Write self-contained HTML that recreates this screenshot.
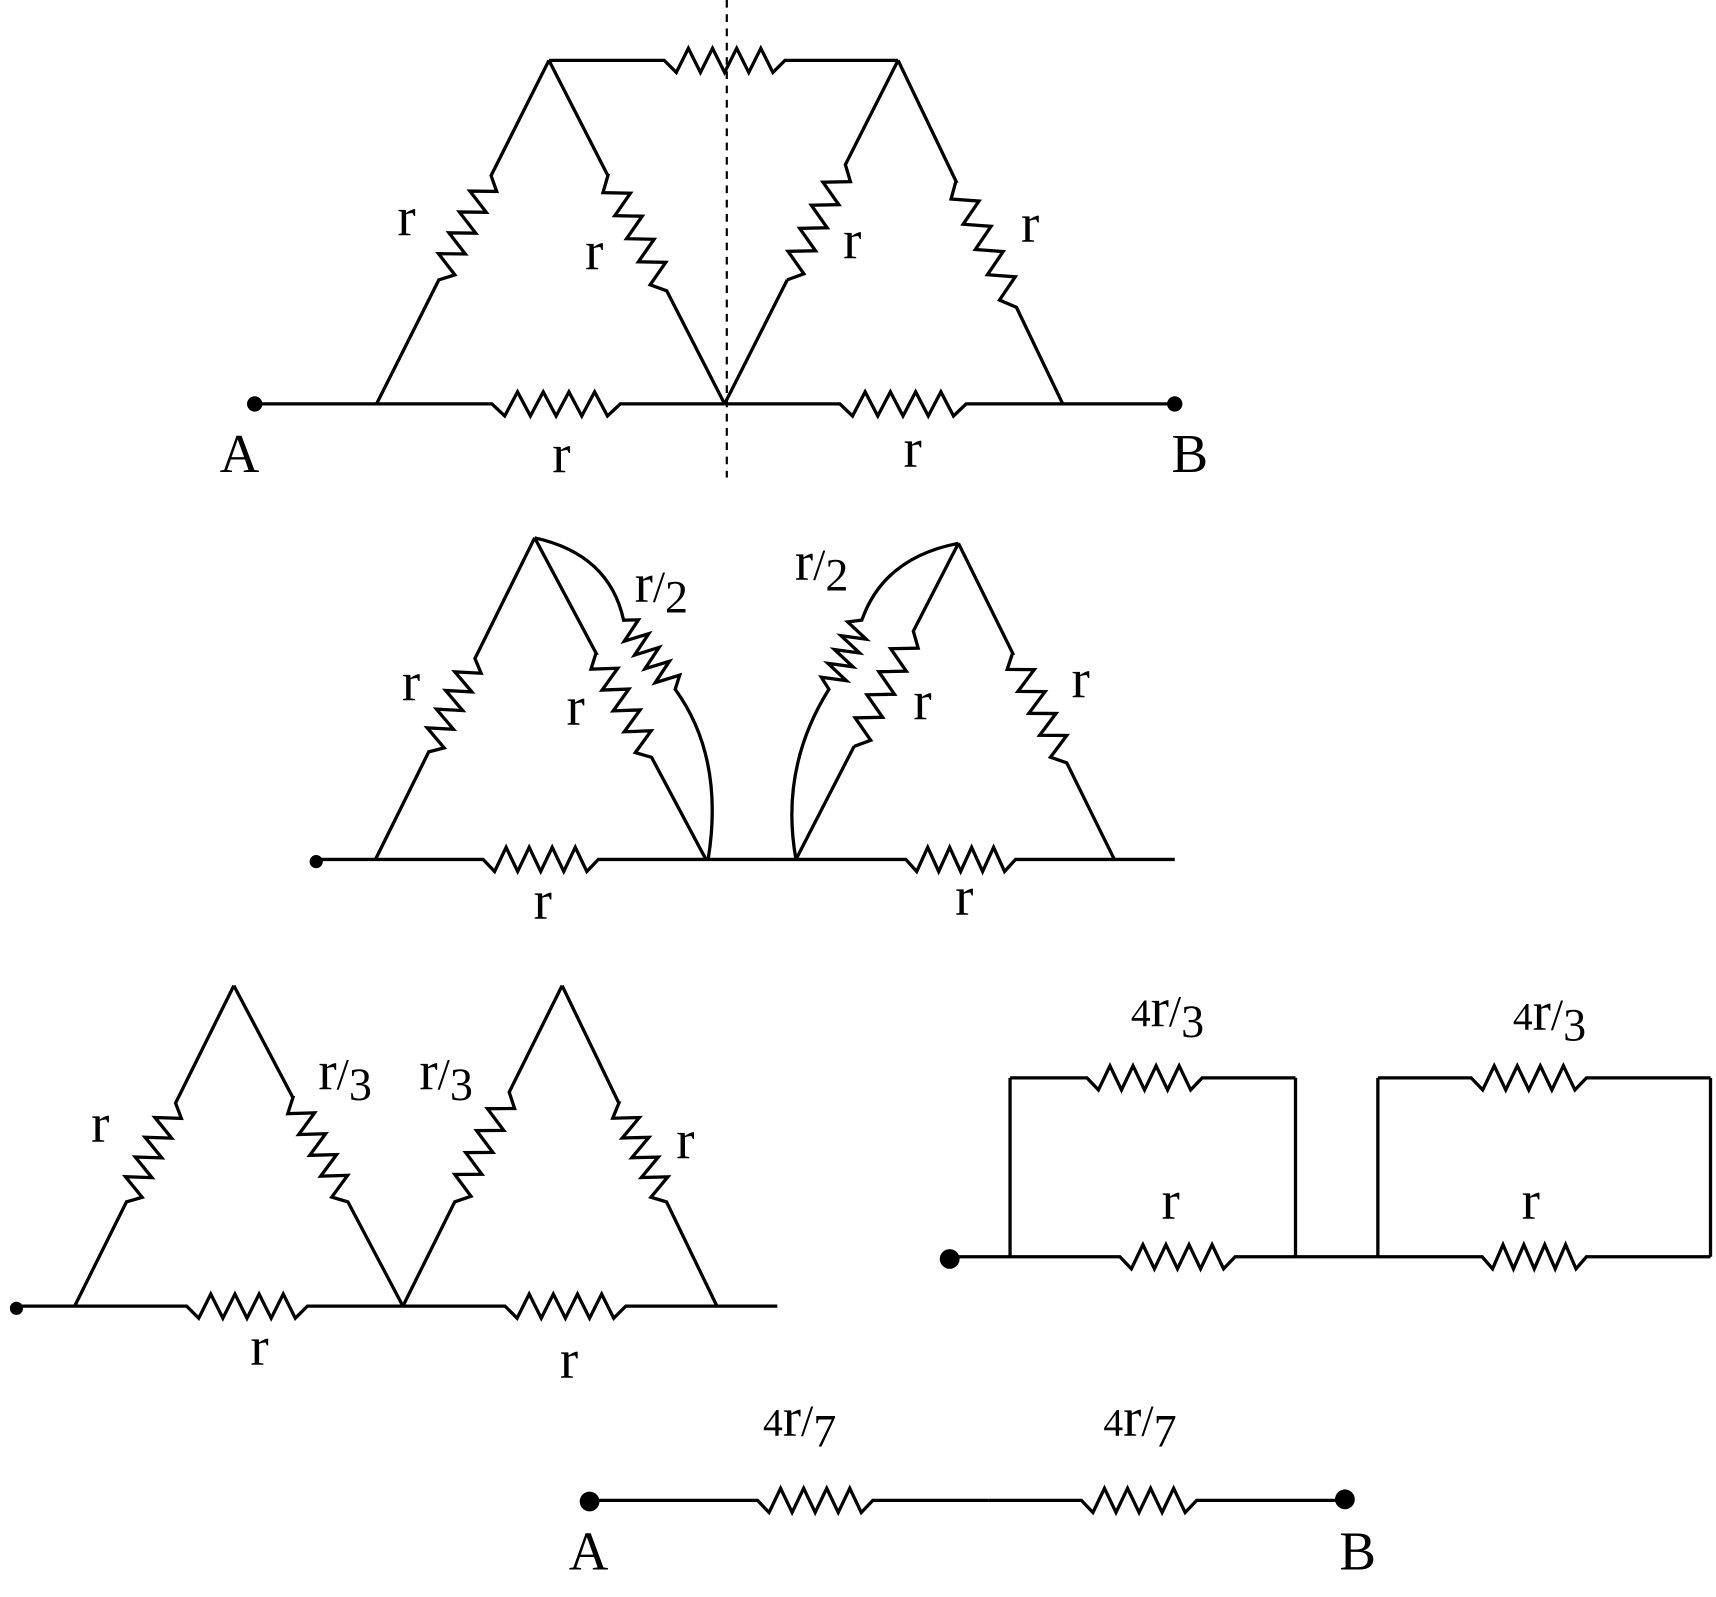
<!DOCTYPE html>
<html><head><meta charset="utf-8"><style>
html,body{margin:0;padding:0;background:#fff}
svg{display:block}
text{font-family:"Liberation Serif",serif;fill:#000}
</style></head><body>
<svg id="s" width="1716" height="1597" viewBox="0 0 1563 1455" preserveAspectRatio="none" xmlns="http://www.w3.org/2000/svg">
<g id="g" fill="none" stroke="#000" stroke-width="3" stroke-linejoin="miter"></g>
<g id="d" fill="#000"></g>
<line x1="662" y1="0" x2="662" y2="435" stroke="#000" stroke-width="2" stroke-dasharray="7,6"/>
<g font-size="50">
<text x="362" y="214">r</text><text x="533" y="245">r</text><text x="768" y="235">r</text><text x="930" y="220">r</text>
<text x="503" y="430">r</text><text x="823" y="425">r</text>
<text x="200" y="430">A</text><text x="1067" y="430">B</text>
<text x="366" y="638">r</text><text x="516" y="660">r</text><text x="832" y="655">r</text><text x="976" y="635">r</text>
<text x="486" y="837">r</text><text x="870" y="833">r</text>
<text x="83" y="1040">r</text><text x="616" y="1055">r</text><text x="228" y="1243">r</text><text x="510" y="1255">r</text>
<text x="1058" y="1110">r</text><text x="1386" y="1110">r</text>
<text x="518" y="1430">A</text><text x="1220" y="1430">B</text>
</g>
<g>
<text x="578" y="548"><tspan font-size="50">r</tspan><tspan font-size="40">/</tspan><tspan font-size="42" dy="10">2</tspan></text>
<text x="724" y="528"><tspan font-size="50">r</tspan><tspan font-size="40">/</tspan><tspan font-size="42" dy="10">2</tspan></text>
<text x="290" y="992"><tspan font-size="50">r</tspan><tspan font-size="40">/</tspan><tspan font-size="42" dy="10">3</tspan></text>
<text x="382" y="992"><tspan font-size="50">r</tspan><tspan font-size="40">/</tspan><tspan font-size="42" dy="10">3</tspan></text>
<text x="1030" y="935"><tspan font-size="36">4</tspan><tspan font-size="50">r</tspan><tspan font-size="40">/</tspan><tspan font-size="42" dy="10">3</tspan></text>
<text x="1378" y="938"><tspan font-size="36">4</tspan><tspan font-size="50">r</tspan><tspan font-size="40">/</tspan><tspan font-size="42" dy="10">3</tspan></text>
<text x="695" y="1308"><tspan font-size="36">4</tspan><tspan font-size="50">r</tspan><tspan font-size="40">/</tspan><tspan font-size="42" dy="10">7</tspan></text>
<text x="1005" y="1308"><tspan font-size="36">4</tspan><tspan font-size="50">r</tspan><tspan font-size="40">/</tspan><tspan font-size="42" dy="10">7</tspan></text>
</g>
</svg>
<script>
var g=document.getElementById('g'),d=document.getElementById('d'),NS='http://www.w3.org/2000/svg';
function P(s){var e=document.createElementNS(NS,'path');e.setAttribute('d',s);g.appendChild(e);}
function zz(x0,y0,x1,y1,flip){var dx=x1-x0,dy=y1-y0,L=Math.hypot(dx,dy),nx=-dy/L,ny=dx/L,A=11*(flip?-1:1),n=10,s='';
 for(var i=0;i<=n;i++){var t=i/n;var a=(i==0||i==n)?0:(i%2?A:-A);s+=' L'+(x0+dx*t+nx*a).toFixed(1)+','+(y0+dy*t+ny*a).toFixed(1);}return s;}
function W(x0,y0,x1,y1,a,b){
 var ax=x0+(x1-x0)*a,ay=y0+(y1-y0)*a,bx=x0+(x1-x0)*b,by=y0+(y1-y0)*b;
 P('M'+x0+','+y0+' L'+ax+','+ay+zz(ax,ay,bx,by)+' L'+x1+','+y1);}
function L(s){P(s);}
function H(x0,x1,y,r0,r1){P('M'+x0+','+y+' L'+r0+','+y+zz(r0,y,r1,y)+' L'+x1+','+y);}
function dot(x,y,r){var c=document.createElementNS(NS,'circle');c.setAttribute('cx',x);c.setAttribute('cy',y);c.setAttribute('r',r||7);d.appendChild(c);}
function seg(x0,y0,x1,y1,p0,p1){var a=(p0-y0)/(y1-y0),b=(p1-y0)/(y1-y0);W(x0,y0,x1,y1,a,b);}
H(232,660,368,448,565);H(660,1070,368,765,880);
H(500,818,55,605,715);
seg(343,368,500,55,255,160);
seg(500,55,660,368,160,265);
seg(660,368,818,55,255,150);
seg(818,55,968,368,165,280);
dot(232,368);dot(1070,368);
H(288,700,783,440,545);H(700,1070,783,825,925);
seg(342,783,487,490,685,600);
seg(487,490,643,783,595,690);
seg(725,783,873,495,680,575);
seg(873,495,1015,783,595,695);
P('M487,490 Q555,505 568,565'+zz(568,565,615,628,true)+' Q660,690 645,783');
P('M873,495 Q805,508 785,565'+zz(785,565,755,628)+' Q710,700 725,783');
dot(288,785,6);
H(15,367,1190,170,280);H(367,708,1190,460,570);
seg(68,1190,213,898,1095,1005);
seg(213,898,367,1190,1000,1095);
seg(367,1190,512,898,1095,995);
seg(512,898,653,1190,1005,1095);
dot(15,1192,6);
H(865,1180,1145,1020,1125);L('M1180,1145 L1255,1145');
H(920,1180,982,990,1095);L('M920,982 L920,1145 M1180,982 L1180,1145');
H(1255,1558,982,1340,1445);H(1255,1558,1145,1350,1445);L('M1255,982 L1255,1145 M1558,982 L1558,1145');
dot(865,1147,9);
H(537,900,1367,690,795);H(900,1225,1367,985,1090);
dot(537,1368,9);dot(1225,1366,9);
</script>
</body></html>
